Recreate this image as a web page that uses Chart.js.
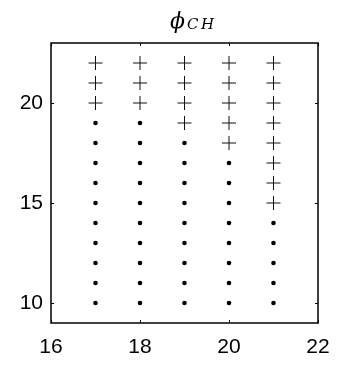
<!DOCTYPE html>
<html>
<head>
<meta charset="utf-8">
<script src="https://cdn.jsdelivr.net/npm/chart.js@4/dist/chart.umd.min.js"></script>
<style>
  html, body { margin: 0; padding: 0; background: #fff; }
  #wrap { width: 338px; height: 365px; }
</style>
</head>
<body>
<div id="wrap"><canvas id="chart" width="338" height="365"></canvas></div>
<script>
// Data
const columns = [17, 18, 19, 20, 21];
const dotYs = [
    [10, 11, 12, 13, 14, 15, 16, 17, 18, 19],
    [10, 11, 12, 13, 14, 15, 16, 17, 18, 19],
    [10, 11, 12, 13, 14, 15, 16, 17, 18],
    [10, 11, 12, 13, 14, 15, 16, 17],
    [10, 11, 12, 13, 14]
];
const crossYs = [
    [20, 21, 22],
    [20, 21, 22],
    [19, 20, 21, 22],
    [18, 19, 20, 21, 22],
    [15, 16, 17, 18, 19, 20, 21, 22]
];
const xTicks = [16, 18, 20, 22];
const yTicks = [10, 15, 20];

function toPoints(ys) {
    const pts = [];
    ys.forEach((list, i) => list.forEach(y => pts.push({ x: columns[i], y: y })));
    return pts;
}

// box + inward ticks on all four sides, MATLAB style
const boxPlugin = {
    id: 'box',
    afterDraw(chart) {
        const { ctx, chartArea: a, scales } = chart;
        ctx.save();
        ctx.strokeStyle = '#000';
        ctx.lineWidth = 1;
        const len = 3;
        ctx.beginPath();
        xTicks.forEach(v => {
            const px = Math.round(scales.x.getPixelForValue(v)) + 0.5;
            ctx.moveTo(px, a.bottom); ctx.lineTo(px, a.bottom - len);
            ctx.moveTo(px, a.top); ctx.lineTo(px, a.top + len);
        });
        yTicks.forEach(v => {
            const py = Math.round(scales.y.getPixelForValue(v)) + 0.5;
            ctx.moveTo(a.left, py); ctx.lineTo(a.left + len, py);
            ctx.moveTo(a.right, py); ctx.lineTo(a.right - len, py);
        });
        ctx.stroke();
        ctx.lineWidth = 1.5;
        ctx.strokeRect(a.left, a.top, a.right - a.left, a.bottom - a.top);

        // title: phi_CH
        ctx.fillStyle = '#000';
        ctx.textBaseline = 'alphabetic';
        ctx.font = 'italic 22px "DejaVu Serif"';
        ctx.fillText('\u03D5', 170, 28);
        ctx.font = 'italic 15px "DejaVu Serif"';
        ctx.fillText('C', 187, 29);
        ctx.fillText('H', 201, 29);
        ctx.restore();
    }
};

new Chart(document.getElementById('chart').getContext('2d'), {
    type: 'scatter',
    data: {
        datasets: [
            {
                data: toPoints(crossYs),
                pointStyle: 'cross',
                pointRadius: 7,
                pointBorderWidth: 1,
                borderColor: '#111',
                backgroundColor: '#111'
            },
            {
                data: toPoints(dotYs),
                pointStyle: 'circle',
                pointRadius: 2.3,
                pointBorderWidth: 0,
                borderColor: '#000',
                backgroundColor: '#000'
            }
        ]
    },
    options: {
        responsive: false,
        animation: false,
        layout: { padding: { top: 43, right: 20, left: 0, bottom: 0 } },
        plugins: { legend: { display: false }, tooltip: { enabled: false } },
        scales: {
            x: {
                type: 'linear',
                min: 16,
                max: 22,
                afterBuildTicks: s => { s.ticks = xTicks.map(v => ({ value: v })); },
                afterFit: s => { s.height = 42; s.paddingLeft = 0; s.paddingRight = 0; },
                grid: { display: false, drawTicks: false },
                border: { display: false },
                ticks: { color: '#000', padding: 12, maxRotation: 0, font: { family: 'Liberation Sans', size: 21 } }
            },
            y: {
                type: 'linear',
                min: 9,
                max: 23,
                afterBuildTicks: s => { s.ticks = yTicks.map(v => ({ value: v })); },
                afterFit: s => { s.width = 51; s.paddingTop = 0; s.paddingBottom = 0; },
                grid: { display: false, drawTicks: false },
                border: { display: false },
                ticks: { color: '#000', padding: 8, font: { family: 'Liberation Sans', size: 21 } }
            }
        }
    },
    plugins: [boxPlugin]
});
</script>
</body>
</html>
